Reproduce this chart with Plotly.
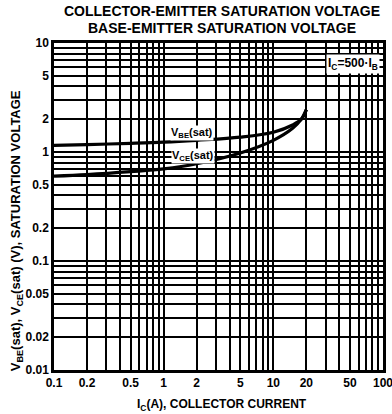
import plotly.graph_objects as go

# Data
ic = [0.1, 0.2, 0.5, 1, 2, 5, 10, 15, 18, 20]
vbe_sat = [1.15, 1.17, 1.2, 1.23, 1.28, 1.37, 1.52, 1.77, 2.0, 2.45]
vce_sat = [0.6, 0.62, 0.66, 0.7, 0.78, 0.98, 1.28, 1.65, 2.0, 2.45]

x_tick_vals = [0.1, 0.2, 0.5, 1, 2, 5, 10, 20, 50, 100]
x_tick_text = ["0.1", "0.2", "0.5", "1", "2", "5", "10", "20", "50", "100"]
x_grid_vals = [0.3, 0.4, 0.6, 0.7, 0.8, 0.9, 3, 4, 6, 7, 8, 9, 30, 40, 60, 70, 80, 90]
y_tick_vals = [0.01, 0.02, 0.05, 0.1, 0.2, 0.5, 1, 2, 5, 10]
y_tick_text = ["0.01", "0.02", "0.05", "0.1", "0.2", "0.5", "1", "2", "5", "10"]
y_grid_vals = [0.03, 0.04, 0.06, 0.07, 0.08, 0.09, 0.3, 0.4, 0.6, 0.7, 0.8, 0.9, 3, 4, 6, 7, 8, 9]

FONT = "Liberation Sans, Arial, sans-serif"

fig = go.Figure()
fig.add_trace(go.Scatter(x=ic, y=vbe_sat, mode="lines", line=dict(color="black", width=3.2, shape="spline"),
                         name="VBE(sat)", showlegend=False))
fig.add_trace(go.Scatter(x=ic, y=vce_sat, mode="lines", line=dict(color="black", width=3.2, shape="spline"),
                         name="VCE(sat)", showlegend=False))

axis_common = dict(
    type="log", showgrid=True, gridcolor="black",
    showline=True, linecolor="black", linewidth=2.5, mirror=True,
    ticks="", zeroline=False, automargin=False, ticklabeloverflow="allow",
    tickfont=dict(family=FONT, size=12, color="black", weight="bold"),
)
fig.update_xaxes(range=[-1, 2], tickvals=x_tick_vals, ticktext=x_tick_text, gridwidth=2,
                 minor=dict(tickvals=x_grid_vals, showgrid=True, gridcolor="black", gridwidth=2, ticks=""),
                 **axis_common)
fig.update_yaxes(range=[-2, 1], tickvals=y_tick_vals, ticktext=y_tick_text, gridwidth=1.5,
                 minor=dict(tickvals=y_grid_vals, showgrid=True, gridcolor="black", gridwidth=1.5, ticks=""),
                 **axis_common)

fig.update_layout(
    width=392, height=414,
    margin=dict(l=54, r=9, t=43, b=44, autoexpand=False),
    paper_bgcolor="white", plot_bgcolor="white",
    font=dict(family=FONT, color="black"),
    annotations=[
        dict(text="COLLECTOR-EMITTER SATURATION VOLTAGE", xref="paper", yref="paper",
             x=0.51, y=1.098, xanchor="center", yanchor="middle", showarrow=False,
             font=dict(family=FONT, size=14, color="black", weight="bold")),
        dict(text="BASE-EMITTER SATURATION VOLTAGE", xref="paper", yref="paper",
             x=0.51, y=1.045, xanchor="center", yanchor="middle", showarrow=False,
             font=dict(family=FONT, size=14, color="black", weight="bold")),
        dict(text="I<sub>C</sub>(A), COLLECTOR CURRENT", xref="paper", yref="paper",
             x=0.51, y=-0.075, xanchor="center", yanchor="top", showarrow=False,
             font=dict(family=FONT, size=12, color="black", weight="bold")),
        dict(text="V<sub>BE</sub>(sat), V<sub>CE</sub>(sat) (V), SATURATION VOLTAGE", xref="paper", yref="paper",
             x=-0.115, y=0.425, xanchor="center", yanchor="middle", textangle=-90, showarrow=False,
             font=dict(family=FONT, size=13, color="black", weight="bold")),
        dict(text="I<sub>C</sub>=500·I<sub>B</sub>", xref="paper", yref="paper",
             x=0.99, y=0.935, xanchor="right", yanchor="middle", showarrow=False,
             bgcolor="white", borderpad=1,
             font=dict(family=FONT, size=12, color="black", weight="bold")),
        dict(text="V<sub>BE</sub>(sat)", x=0.255, y=0.174, xref="x", yref="y", xanchor="center",
             yanchor="middle", showarrow=False, bgcolor="white", borderpad=0,
             font=dict(family=FONT, size=11, color="black", weight="bold")),
        dict(text="V<sub>CE</sub>(sat)", x=0.27, y=-0.036, xref="x", yref="y", xanchor="center",
             yanchor="middle", showarrow=False, bgcolor="white", borderpad=0,
             font=dict(family=FONT, size=11, color="black", weight="bold")),
    ],
)

fig.write_html("out.html", config={"displayModeBar": False},
               post_script="document.body.style.margin='0';document.body.style.padding='0';")
